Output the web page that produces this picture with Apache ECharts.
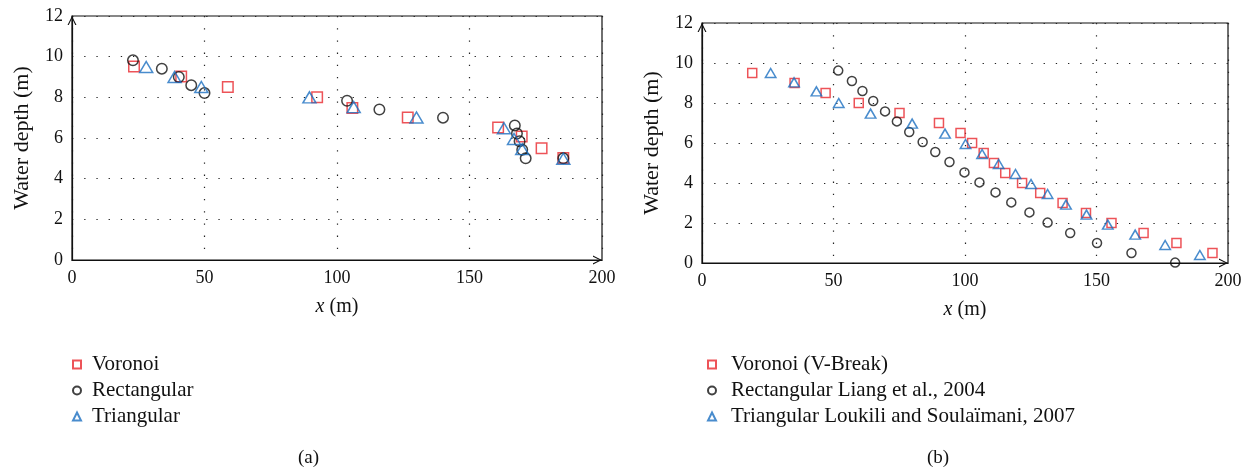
<!DOCTYPE html>
<html>
<head>
<meta charset="utf-8">
<script src="https://cdn.jsdelivr.net/npm/echarts@6/dist/echarts.min.js"></script>
<style>
  html, body { margin: 0; padding: 0; background: #fff; }
  #chart { width: 1254px; height: 470px; }
</style>
</head>
<body>
<div id="chart"></div>
<script>
// panel (a)
const voronoiA = [[23.4,9.52],[41.2,9.03],[58.8,8.51],[92.5,8.01],[105.8,7.47],[126.7,7.01],[160.8,6.52],[169.7,6.07],[177.2,5.5],[185.4,5.02]];
const rectA = [[23,9.82],[33.9,9.41],[40.3,9.0],[45,8.6],[50,8.21],[103.8,7.83],[116,7.4],[140,7.0],[167.1,6.62],[167.9,6.22],[168.9,5.84],[169.9,5.42],[171.2,5.0],[185.4,5.0]];
const triA = [[28,9.49],[38.7,9.0],[48.8,8.51],[89.6,8.0],[106.3,7.52],[130,7.01],[163,6.48],[166.8,5.95],[169.9,5.45],[185.4,4.98]];

// panel (b)
const voronoiBx = [19.1,35.2,47,59.6,75.1,90.1,98.3,102.7,107.1,111,115.3,121.7,128.6,137.1,146,155.7,167.9,180.4,194.1];
const voronoiBy = [9.5,9.0,8.5,8.0,7.5,7.0,6.5,6.0,5.5,5.0,4.5,4.0,3.5,3.0,2.5,2.0,1.5,1.0,0.5];
const rectBx = [51.8,57,61,65.1,69.6,74.1,78.8,83.9,88.7,94.1,99.8,105.5,111.6,117.6,124.5,131.4,140,150.2,163.3,179.9];
const rectBy = [9.62,9.1,8.6,8.1,7.58,7.08,6.55,6.05,5.55,5.05,4.53,4.03,3.53,3.03,2.53,2.02,1.5,1.0,0.5,0.02];
const triBx = [26.1,35,43.5,52,64.1,79.9,92.4,100.2,106.5,112.8,119.2,125.1,131.4,138.4,146.2,154.3,164.7,176.1,189.3];
const triBy = [9.5,9.03,8.58,8.0,7.47,6.97,6.47,5.95,5.45,4.95,4.45,3.95,3.45,2.92,2.42,1.92,1.42,0.9,0.4];

const namesA = ['Voronoi', 'Rectangular', 'Triangular'];
const namesB = ['Voronoi (V-Break)', 'Rectangular Liang et al., 2004', 'Triangular Loukili and Soula\u00efmani, 2007'];

const RED = '#e8282e', BLACK = '#111', BLUE = '#1c6fc0';
const FONT = 'Liberation Serif';
const zip = (xs, ys) => xs.map((x, i) => [x, ys[i]]);

// open arrow head at the end of each axis
const chevron = 'path://M0,10 L5,0 L10,10 L8.6,10 L5,2.6 L1.4,10 Z';

function xAxisOf(idx) {
  return {
    gridIndex: idx, type: 'value', min: 0, max: 200, interval: 50,
    name: '{i|x} (m)', nameLocation: 'middle', nameGap: 37,
    nameTextStyle: { fontFamily: FONT, fontSize: 20, color: '#111',
      rich: { i: { fontFamily: FONT, fontSize: 20, fontStyle: 'italic', color: '#111' } } },
    axisLine: { lineStyle: { color: '#111', width: 1.2 }, symbol: ['none', chevron], symbolSize: [11, 9], symbolOffset: [0, -4.5] },
    axisTick: { show: false },
    axisLabel: { fontFamily: FONT, fontSize: 18, color: '#111', margin: 9 },
    splitLine: { lineStyle: { type: [1.3, 10.9], color: '#222', width: 1.2 } }
  };
}
function yAxisOf(idx) {
  return {
    gridIndex: idx, type: 'value', min: 0, max: 12, interval: 2,
    name: 'Water depth (m)', nameLocation: 'middle', nameGap: 39,
    nameTextStyle: { fontFamily: FONT, fontSize: 22, color: '#111' },
    axisLine: { lineStyle: { color: '#111', width: 1.2 }, symbol: ['none', chevron], symbolSize: [11, 9], symbolOffset: [0, -4.5] },
    axisTick: { show: false },
    axisLabel: { fontFamily: FONT, fontSize: 18, color: '#111', margin: 9 },
    splitLine: { lineStyle: { type: [1.3, 10.9], color: '#222', width: 1.2 } }
  };
}
function sc(name, idx, data, symbol, size, color) {
  return {
    name: name, type: 'scatter', xAxisIndex: idx, yAxisIndex: idx,
    data: data, symbol: symbol, symbolSize: size,
    itemStyle: { color: 'transparent', borderColor: color, borderWidth: 1.5 },
    emphasis: { disabled: true }
  };
}
function legendOf(names, left, gap) {
  return {
    orient: 'vertical', left: left, top: 354, itemGap: 5, padding: 0,
    itemWidth: 8, itemHeight: 8,
    data: names, selectedMode: false,
    textStyle: { fontFamily: FONT, fontSize: 21, color: '#111', lineHeight: 21, padding: [0, 0, 0, gap] }
  };
}

const chart = echarts.init(document.getElementById('chart'));
chart.setOption({
  backgroundColor: '#fff',
  animation: false,
  grid: [
    { left: 72, top: 16, width: 530, height: 244, show: true, borderColor: '#111', borderWidth: 1.2 },
    { left: 702, top: 23, width: 526, height: 240, show: true, borderColor: '#111', borderWidth: 1.2 }
  ],
  xAxis: [xAxisOf(0), xAxisOf(1)],
  yAxis: [yAxisOf(0), yAxisOf(1)],
  legend: [legendOf(namesA, 72, 6), legendOf(namesB, 707, 10)],
  title: [
    { text: '(a)', left: 293, top: 444, textStyle: { fontFamily: FONT, fontSize: 19, fontWeight: 'normal', color: '#111' } },
    { text: '(b)', left: 922, top: 444, textStyle: { fontFamily: FONT, fontSize: 19, fontWeight: 'normal', color: '#111' } }
  ],
  series: [
    sc(namesA[0], 0, voronoiA, 'rect', 10.5, RED),
    sc(namesA[1], 0, rectA, 'circle', 10.5, BLACK),
    sc(namesA[2], 0, triA, 'triangle', [13, 11], BLUE),
    sc(namesB[0], 1, zip(voronoiBx, voronoiBy), 'rect', 9, RED),
    sc(namesB[1], 1, zip(rectBx, rectBy), 'circle', 9, BLACK),
    sc(namesB[2], 1, zip(triBx, triBy), 'triangle', [10.5, 9], BLUE)
  ]
});
</script>
</body>
</html>
